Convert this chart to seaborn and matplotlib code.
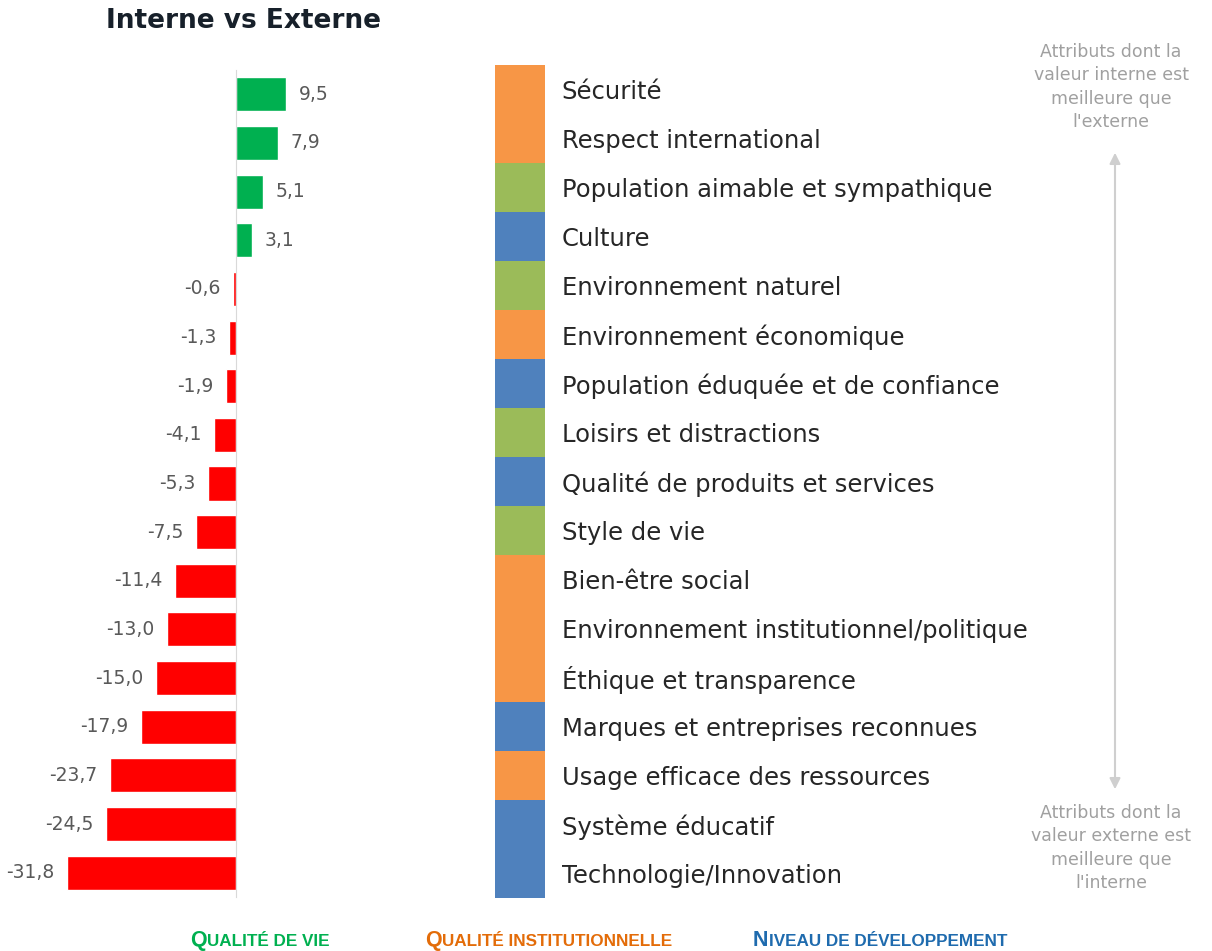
import numpy as np
import pandas as pd
import matplotlib
matplotlib.use("Agg")
import matplotlib.pyplot as plt
import seaborn as sns
from matplotlib.colors import ListedColormap

sns.set_style("white")
plt.rcParams['font.family'] = ['DejaVu Sans']

# données
attributs = [
    "Sécurité", "Respect international", "Population aimable et sympathique",
    "Culture", "Environnement naturel", "Environnement économique",
    "Population éduquée et de confiance", "Loisirs et distractions",
    "Qualité de produits et services", "Style de vie", "Bien-être social",
    "Environnement institutionnel/politique", "Éthique et transparence",
    "Marques et entreprises reconnues", "Usage efficace des ressources",
    "Système éducatif", "Technologie/Innovation",
]
ecarts = [9.5, 7.9, 5.1, 3.1, -0.6, -1.3, -1.9, -4.1, -5.3, -7.5,
          -11.4, -13.0, -15.0, -17.9, -23.7, -24.5, -31.8]
groupes = ["inst", "inst", "vie", "dev", "vie", "inst", "dev", "vie", "dev",
           "vie", "inst", "inst", "inst", "dev", "inst", "dev", "dev"]
groupe_titres = ["Qualité de vie", "Qualité institutionnelle", "Niveau de développement"]

df = pd.DataFrame({"attribut": attributs, "ecart": ecarts, "groupe": groupes})
df["signe"] = np.where(df["ecart"] >= 0, "pos", "neg")

fig = plt.figure(figsize=(12.12, 9.51), dpi=100)
W, H = 1212, 951

# barres
btop, bbot = 70, 897
ax = fig.add_axes([66 / W, 1 - bbot / H, 223 / W, (bbot - btop) / H])
sns.barplot(data=df, x="ecart", y="attribut", hue="signe",
            palette={"pos": "#00B050", "neg": "#FF0000"}, dodge=False,
            saturation=1, legend=False, width=0.7, orient="h", ax=ax)
ax.set_xlim(-32, 10)
ax.set_ylim(len(attributs) - 0.5, -0.5)
for c in ax.containers:
    ax.bar_label(c, labels=[f"{v:.1f}".replace(".", ",") for v in c.datavalues],
                 padding=9, fontsize=13.5, color="#595959", clip_on=False)
for s in ["top", "right", "bottom"]:
    ax.spines[s].set_visible(False)
ax.spines["left"].set_position(("data", 0))
ax.spines["left"].set_color("#D9D9D9")
ax.set_yticks(np.arange(len(attributs) + 1) - 0.5)
ax.set_yticklabels([])
ax.tick_params(axis="y", length=5, color="#D9D9D9", direction="out")
ax.set_xticks([])
ax.set_xlabel("")
ax.set_ylabel("")

# colonne de couleurs
top, bottom = 65, 898
code = {"vie": 0, "inst": 1, "dev": 2}
mat = pd.DataFrame({"g": [code[g] for g in groupes]}, index=attributs)
hax = fig.add_axes([495 / W, 1 - bottom / H, 50 / W, (bottom - top) / H])
sns.heatmap(mat, cmap=ListedColormap(["#9BBB59", "#F79646", "#4F81BD"]),
            vmin=-0.5, vmax=2.5, cbar=False, xticklabels=False,
            yticklabels=attributs, linewidths=0, ax=hax)
hax.yaxis.tick_right()
hax.tick_params(axis="y", length=0, pad=12, labelsize=17.5, labelcolor="#262626",
                labelrotation=0)
hax.set_ylabel("")
hax.set_xlabel("")

# titre
fig.text(106 / W, 1 - 21 / H, "Interne vs Externe", fontsize=19,
         fontweight="bold", color="#17202A", va="center", ha="left")

# annotations droite
gris = "#A0A0A0"
fig.text(1111 / W, 1 - 87 / H,
         "Attributs dont la\nvaleur interne est\nmeilleure que\nl'externe",
         ha="center", va="center", fontsize=12.5, color=gris, linespacing=1.4)
fig.text(1111 / W, 1 - 848 / H,
         "Attributs dont la\nvaleur externe est\nmeilleure que\nl'interne",
         ha="center", va="center", fontsize=12.5, color=gris, linespacing=1.4)
fig.add_artist(matplotlib.patches.FancyArrowPatch(
    (1115 / W, 1 - 150 / H), (1115 / W, 1 - 792 / H),
    transform=fig.transFigure, arrowstyle="<|-|>", mutation_scale=16,
    color="#CFCFCF", lw=1.5))

# légende en petites capitales
legende_x = [190, 425, 753]
legende_c = ["#00B050", "#E36C09", "#1F6BAE"]
fam = ["Liberation Sans Narrow", "Liberation Sans"]
firsts = []
for t, x, col in zip(groupe_titres, legende_x, legende_c):
    f = fig.text(x / W, 1 - 946 / H, t[0].upper(), fontsize=15.5, fontweight="bold",
                 color=col, va="baseline", ha="left", family=fam)
    firsts.append(f)
fig.canvas.draw()
r = fig.canvas.get_renderer()
for f, t, col in zip(firsts, groupe_titres, legende_c):
    bb = f.get_window_extent(r)
    fig.text(bb.x1 / W + 0.5 / W, 1 - 946 / H, t[1:].upper(), fontsize=12.3,
             fontweight="bold", color=col, va="baseline", ha="left", family=fam)

fig.savefig("out.png", dpi=100)
